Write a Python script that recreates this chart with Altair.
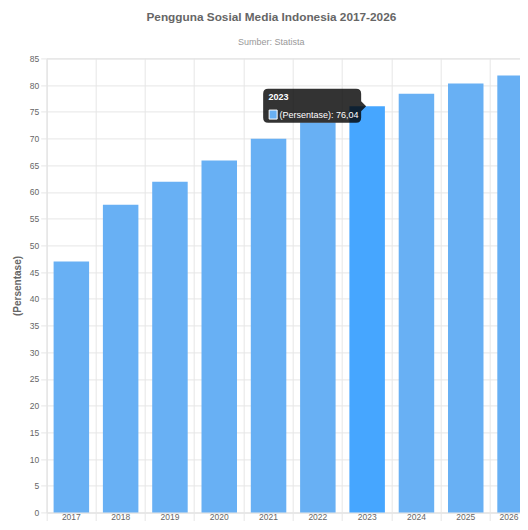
import altair as alt
import pandas as pd

# ---- data ----
tahun = ["2017", "2018", "2019", "2020", "2021", "2022", "2023", "2024", "2025", "2026"]
persentase = [47.0, 57.6, 61.9, 65.9, 69.95, 73.0, 76.04, 78.4, 80.3, 81.8]
y_ticks = list(range(0, 90, 5))
highlight_year = "2023"

judul = "Pengguna Sosial Media Indonesia 2017-2026"
sumber = "Sumber: Statista"
sumbu_y = "(Persentase)"

df = pd.DataFrame({"tahun": tahun, "nilai": persentase})
df["label"] = df["nilai"].map(lambda v: "(Persentase): " + f"{v:.2f}".replace(".", ","))

FONT = "Liberation Sans"
BAR = "#68B0F4"
BAR_HOVER = "#46A6FF"
GRID = "#e6e6e6"
STEP = 49.3
N = len(tahun)

x_scale = alt.Scale(domain=tahun, range=[0, STEP * N], paddingInner=0, paddingOuter=0)
y_scale = alt.Scale(domain=[0, 85], nice=False, zero=True)

x_axis = alt.Axis(
    title=None,
    bandPosition=0,
    grid=True,
    gridColor=GRID,
    ticks=True,
    tickSize=8,
    tickColor=GRID,
    domainColor=GRID,
    labelPadding=1,
    labelBaseline="bottom",
    labelOffset={"condition": {"test": f"datum.value == '{tahun[-1]}'", "value": -6}, "value": 0},
    labelFont=FONT,
    labelFontSize=8.5,
    labelColor="#666",
    labelAngle=0,
)
y_axis = alt.Axis(
    title=sumbu_y,
    values=y_ticks,
    labelOverlap=False,
    grid=True,
    gridColor=GRID,
    tickColor=GRID,
    tickSize=6,
    domainColor=GRID,
    labelPadding=2,
    labelFont=FONT,
    labelFontSize=8.5,
    labelColor="#666",
    titleFont=FONT,
    titleFontSize=10,
    titleFontWeight="bold",
    titleColor="#666",
    titlePadding=7,
)

tx = alt.X("tahun:N", scale=x_scale, sort=tahun, axis=x_axis)
ty = alt.Y("nilai:Q", scale=y_scale, axis=y_axis)

bars = alt.Chart(df).mark_bar(width=alt.RelativeBandSize(0.72)).encode(
    x=tx,
    y=ty,
    color=alt.condition(
        alt.datum.tahun == highlight_year, alt.value(BAR_HOVER), alt.value(BAR)
    ),
)

tip_df = df[df["tahun"] == highlight_year]

box_path = (
    "M -99,-17.5 L -11,-17.5 Q -6,-17.5 -6,-12.5 L -6,-5 L -1,0 L -6,5 "
    "L -6,11.5 Q -6,16.5 -11,16.5 L -99,16.5 Q -104,16.5 -104,11.5 "
    "L -104,-12.5 Q -104,-17.5 -99,-17.5 Z"
)
swatch_path = "M -98,3.8 L -90,3.8 L -90,12.8 L -98,12.8 Z"

tip_box = alt.Chart(tip_df).mark_point(
    shape=box_path, size=4, filled=True, fill="#000", fillOpacity=0.8, strokeWidth=0
).encode(x=tx, y=ty)

tip_swatch = alt.Chart(tip_df).mark_point(
    shape=swatch_path, size=4, filled=True, fill=BAR, fillOpacity=1,
    stroke="#fff", strokeWidth=1, opacity=1
).encode(x=tx, y=ty)

tip_title = alt.Chart(tip_df).mark_text(
    align="left", baseline="middle", dx=-98.6, dy=-8.8,
    font=FONT, fontSize=9, fontWeight="bold", color="#fff"
).encode(x=tx, y=ty, text="tahun:N")

tip_text = alt.Chart(tip_df).mark_text(
    align="left", baseline="middle", dx=-87.6, dy=8.5,
    font=FONT, fontSize=9, color="#fff"
).encode(x=tx, y=ty, text="label:N")

chart = (
    alt.layer(bars, tip_box, tip_swatch, tip_title, tip_text)
    .properties(
        width=473.3,
        height=454.1,
        autosize=alt.AutoSizeParams(type="none"),
        padding={"left": 38.7, "top": 50.4, "right": 0, "bottom": 8.5},
        title=alt.TitleParams(
            text=judul,
            subtitle=sumber,
            font=FONT,
            fontSize=11.8,
            fontWeight="bold",
            color="#666",
            subtitleFont=FONT,
            subtitleFontSize=9,
            subtitleColor="#999",
            subtitlePadding=15,
            offset=7,
            anchor="middle",
            frame="group",
            dx=-12,
        ),
    )
    .configure_view(strokeWidth=0)
    .configure(background="white")
)

chart.save("out.html", embed_options={"renderer": "svg", "actions": False})
